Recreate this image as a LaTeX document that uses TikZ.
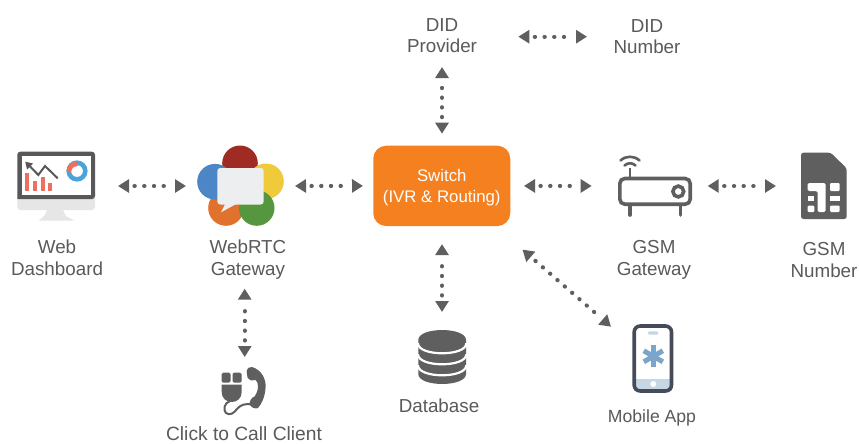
\documentclass[tikz,border=0pt]{standalone}
\usepackage{fontspec}
\setmainfont{Liberation Sans}
\usetikzlibrary{arrows.meta,calc}
\definecolor{ink}{HTML}{5F5F5F}
\definecolor{txt}{HTML}{5A5A5A}
\definecolor{orng}{HTML}{F58020}
\definecolor{salmon}{HTML}{EE6F5E}
\definecolor{skyb}{HTML}{4BA3DB}
\definecolor{lgrey}{HTML}{E6E6E7}
\definecolor{mondark}{HTML}{58585A}
\definecolor{phone}{HTML}{454B58}
\definecolor{pale}{HTML}{C5D7E4}
\definecolor{star}{HTML}{7CA5CC}
\definecolor{bubble}{HTML}{EDEEF0}
\definecolor{rtcred}{HTML}{A02B25}
\definecolor{rtcyel}{HTML}{EFCB3C}
\definecolor{rtcorg}{HTML}{E0722E}
\definecolor{rtcgrn}{HTML}{56963F}
\definecolor{rtcblu}{HTML}{4C86C6}
\tikzset{
  box/.style={inner sep=0pt,outer sep=0pt,minimum width=#1},
  lbl/.style={text=txt,align=center,inner sep=0pt,outer sep=0pt,font=\fontsize{18.8pt}{21.5pt}\selectfont},
  link/.style={draw=ink,line width=4.2pt,line cap=round,
    {Triangle[length=11pt,width=13pt]}-{Triangle[length=11pt,width=13pt]}},
  fourdots/.style={link,dash pattern=on 0.2pt off 9.5pt on 0.2pt off 9.5pt on 0.2pt off 9.5pt on 0.2pt off 40pt,dash phase=63.1pt},
  ninedots/.style={link,dash pattern=on 0.2pt off 9.5pt on 0.2pt off 9.5pt on 0.2pt off 9.5pt on 0.2pt off 9.5pt on 0.2pt off 9.5pt on 0.2pt off 9.5pt on 0.2pt off 9.5pt on 0.2pt off 9.5pt on 0.2pt off 40pt,dash phase=110.9pt},
}
\begin{document}
\begin{tikzpicture}[x=1pt,y=-1pt]
\useasboundingbox (0,0) rectangle (859,444);
\fill[white] (0,0) rectangle (859,444);

% anchors for the icons
\node[box=78pt,minimum height=68pt] (web) at (56.5,186) {};
\node[box=87pt,minimum height=80pt] (rtc) at (240.5,186) {};
\node[box=137pt,minimum height=80.4pt,fill=orng,rounded corners=13pt,text=white,align=center,
      font=\fontsize{16.8pt}{21pt}\selectfont] (sw) at (441.75,185.9) {\rule{0pt}{16.4pt}Switch\\(IVR \& Routing)};
\node[box=74pt,minimum height=62pt] (gsm) at (654.5,186) {};
\node[box=46pt,minimum height=66pt] (sim) at (824,186) {};
\node[box=48pt,minimum height=54pt] (db) at (442,357) {};
\node[box=46pt,minimum height=46pt] (click) at (244.7,390) {};
\node[box=41pt,minimum height=69pt] (app) at (652.8,358.5) {};

% labels
\node[lbl,minimum width=90pt,minimum height=44pt] (did) at (442,35.5) {DID\\Provider};
\node[lbl,minimum width=90pt,minimum height=44pt] (num) at (647,36.7) {DID\\Number};
\node[lbl] (lweb) at (57,258) {Web\\Dashboard};
\node[lbl] (lrtc) at (248,259.5) {WebRTC\\Gateway};
\node[lbl] (lgsm) at (654,259.8) {GSM\\Gateway};
\node[lbl] (lsim) at (824,260) {GSM\\Number};
\node[lbl,font=\fontsize{19.2pt}{21.5pt}\selectfont] (lclick) at (244,434) {Click to Call Client};
\node[lbl] (ldb) at (439,405.5) {Database};
\node[lbl,font=\fontsize{17.6pt}{21.5pt}\selectfont] (lapp) at (652,418) {Mobile App};

% connectors
\draw[fourdots,shorten <=22.5pt,shorten >=11pt] (web.east) -- (rtc.west);
\draw[fourdots,shorten <=11pt,shorten >=10.25pt] (rtc.east) -- (sw.west);
\draw[fourdots,shorten <=13.75pt,shorten >=25.8pt] (sw.east) -- (gsm.west);
\draw[fourdots,shorten <=16.2pt,shorten >=25pt] (gsm.east) -- (sim.west);
\draw[fourdots,shorten <=31.3pt,shorten >=15pt] (did.east |- num.west) -- (num.west);
\draw[fourdots,shorten <=12pt,shorten >=9.5pt] (did.south |- sw.north) -- (did.south);
\draw[fourdots,shorten <=18pt,shorten >=18pt] (db.north) -- (db.north |- sw.south);
\draw[fourdots,shorten <=10pt,shorten >=62.7pt] (click.north) -- ([xshift=4.2pt]rtc.south);
\draw[ninedots] ([shift={(12.25,23.5)}]sw.south east) -- ([shift={(-21.3,2.7)}]app.north west);

% monitor
\fill[lgrey,rounded corners=3pt] (17.3,190) rectangle (95,210);
\fill[lgrey] (47,210) -- (63,210) -- (66,216) -- (74,220.5) -- (39,220.5) -- (44,216) -- cycle;
\fill[mondark] (17.3,199) {[rounded corners=3pt] -- (17.3,151.7) -- (95,151.7) -- (95,199)} -- cycle;
\fill[white] (21.7,156) rectangle (91,195);
\fill[salmon] (25.3,172.7) rectangle (29.3,191.3);
\fill[salmon] (33,180.7) rectangle (37,191.3);
\fill[salmon] (41,177.3) rectangle (45,191.3);
\fill[salmon] (48.3,182.7) rectangle (52.3,191.3);
\draw[mondark,line width=2pt] (57.7,178.3) -- (45,166) -- (38.3,175) -- (28,164.3);
\fill[mondark] (25.3,161.7) -- (33,163.5) -- (27,169.5) -- cycle;
\draw[skyb,line width=4.6pt] (77,171) circle [radius=8.3];
\draw[salmon,line width=4.6pt] (68.7,172) arc[start angle=180,end angle=272,radius=8.3];

% WebRTC flower
\fill[rtcred] (240,163.3) circle [radius=17.8];
\fill[rtcyel] (266,181.3) circle [radius=17.8];
\fill[rtcorg] (226,208) circle [radius=17.8];
\fill[rtcgrn] (256.7,208) circle [radius=17.8];
\fill[rtcblu] (215,181.7) circle [radius=17.8];
\fill[bubble] (221,212.3) -- (225.7,203) -- (238,203) -- cycle;
\fill[bubble,rounded corners=3pt] (217.3,168) rectangle (263.7,204.5);

% router
\draw[ink,line width=3.6pt,rounded corners=5pt] (619.8,178.5) rectangle (690.2,204.2);
\draw[ink,line width=3.6pt,line cap=round] (630,205) -- (630,215);
\draw[ink,line width=3.6pt,line cap=round] (680.3,205) -- (680.3,215);
\draw[ink,line width=2.8pt] (630,168) -- (630,178);
\draw[ink,line width=3.6pt] (678.3,191.5) circle [radius=5.4];
\draw[ink,line width=2.6pt,line cap=round] (620.5,160.5) .. controls (626,155.5) and (634,155.5) .. (639.5,160.5);
\draw[ink,line width=2.6pt,line cap=round] (624.5,165.5) .. controls (628,162.5) and (632,162.5) .. (635.5,165.5);

% SIM card
\fill[ink,rounded corners=2.5pt] (801,152.7) -- (830.7,152.7) -- (846.7,168.3) -- (846.7,219) -- (801,219) -- cycle;
\fill[white,rounded corners=1.5pt] (807.7,191) -- (807.7,183) -- (825.7,183) -- (825.7,212) -- (817.7,212) -- (817.7,191) -- cycle;
\fill[white,rounded corners=1pt] (830,183) rectangle (839.7,191);
\fill[white] (830,195.7) rectangle (839.7,201);
\fill[white,rounded corners=1pt] (830,205.7) rectangle (839.7,212);
\fill[white] (807.7,195.7) rectangle (814.3,201);
\fill[white,rounded corners=1pt] (807.7,205.7) rectangle (814.3,212);

% database
\fill[ink] (418.3,340) -- (418.3,374) .. controls (418.3,387.3) and (466,387.3) .. (466,374) -- (466,340)
  .. controls (466,326.7) and (418.3,326.7) .. (418.3,340) -- cycle;
\foreach \yy in {343.3,354.3,365.3}
  \draw[white,line width=2.2pt] (418,\yy) .. controls (418,\yy+13.3) and (466.3,\yy+13.3) .. (466.3,\yy);

% click to call icon
\fill[ink,rounded corners=1.5pt] (221.7,372.7) rectangle (230.5,382.7);
\fill[ink,rounded corners=1.5pt] (232.5,372.7) rectangle (241.7,382.7);
\fill[ink] (221.7,384.7) -- (241.7,384.7) -- (241.7,392) .. controls (241.7,405.3) and (221.7,405.3) .. (221.7,392) -- cycle;
\draw[ink,line width=2pt] (230,401) .. controls (224,403) and (223,410) .. (226,413)
  .. controls (230,416) and (234,413) .. (237,409) .. controls (240,405) and (246,403) .. (252,404.5);
\fill[ink] (246.7,371.3) .. controls (247,368) and (250,366.5) .. (252,367)
  .. controls (262,370) and (266.5,380) .. (265.5,388) .. controls (265,397) and (261.5,404) .. (258,408)
  .. controls (255,409.5) and (250.5,407) .. (249.5,404) .. controls (249.5,401) and (252,397) .. (254.5,396.5)
  .. controls (257,393) and (259,388) .. (257.5,383) -- (255.7,380)
  .. controls (253,381.5) and (249.5,380.5) .. (247.5,377.5) -- cycle;

% phone
\fill[white] (634.2,326) rectangle (671.5,391);
\fill[pale] (634.2,379) rectangle (671.5,391);
\draw[phone,line width=3.6pt,rounded corners=6pt] (634.2,326) rectangle (671.5,391);
\fill[white] (653.3,384) circle [radius=3];
\fill[pale,rounded corners=1.5pt] (647.7,331.3) rectangle (658.3,334.7);
\foreach \aa in {90,30,150}
  \draw[star,line width=5pt] ($(653.3,356.3)+(\aa:11)$) -- ($(653.3,356.3)+(\aa+180:11)$);
\end{tikzpicture}
\end{document}
